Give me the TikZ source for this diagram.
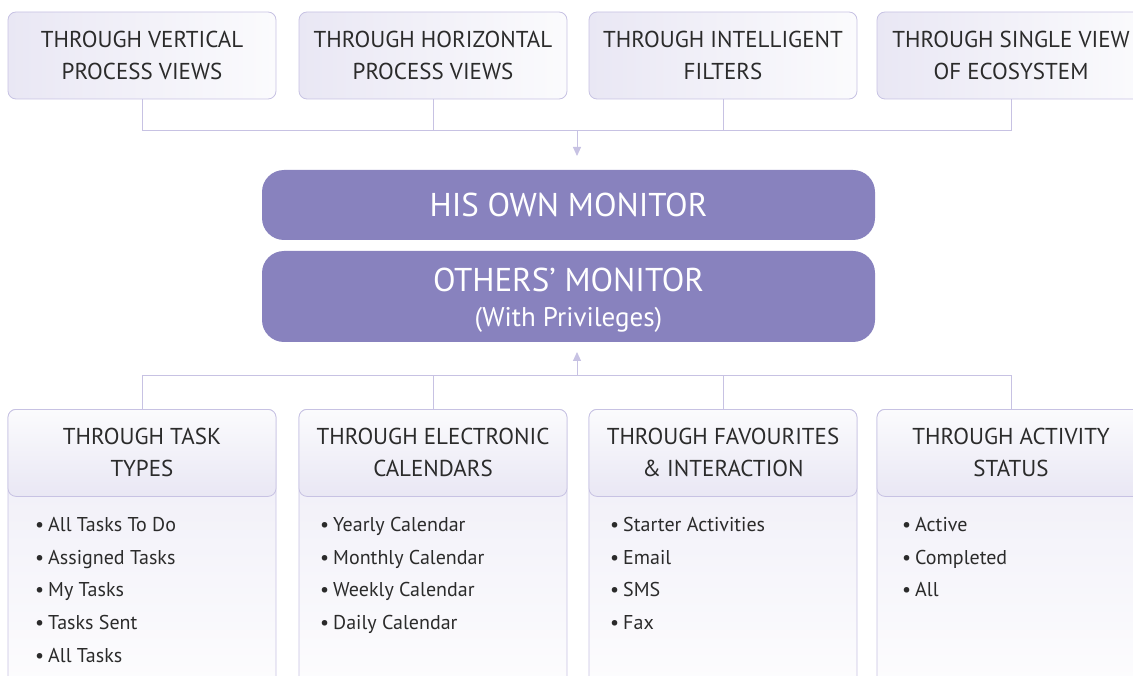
\documentclass[tikz,border=0pt]{standalone}
\usepackage{fontspec}
\setmainfont{PT Sans}
\usetikzlibrary{arrows.meta,positioning}
\definecolor{edge}{HTML}{C7C2E3}
\definecolor{main}{HTML}{8882BE}
\definecolor{ink}{HTML}{2B2B2B}
\definecolor{lav}{HTML}{E9E7F4}
\definecolor{lav2}{HTML}{FBFBFD}
\tikzset{
  topbox/.style={draw=edge, line width=0.8pt, rounded corners=8pt, left color=lav, right color=lav2, minimum width=268pt, minimum height=87pt, align=center, text=ink, font=\fontsize{23}{32}\selectfont, inner sep=0pt},
  mainbox/.style={fill=main, rounded corners=22pt, minimum width=613pt, align=center, text=white, inner sep=0pt},
  headbox/.style={draw=edge, line width=0.8pt, rounded corners=8pt, top color=lav2, bottom color=lav, minimum width=268pt, minimum height=87pt, align=center, text=ink, font=\fontsize{23}{32}\selectfont, inner sep=0pt},
  bodybox/.style={draw=edge, line width=0.8pt, rounded corners=8pt, top color=lav!80, bottom color=white, minimum width=268pt, minimum height=320pt, inner sep=0pt},
  items/.style={align=left, text=ink, font=\fontsize{20}{32.75}\selectfont, inner sep=0pt, anchor=north west},
  conn/.style={draw=edge, line width=1pt},
  arr/.style={conn, -{Triangle[length=9pt,width=8pt]}, shorten >=0pt}
}
\newcommand{\itm}{\textbullet\hspace{4pt}}
\begin{document}
\begin{tikzpicture}[x=1pt,y=-1pt]
\useasboundingbox (0,0) rectangle (1133,676);
\clip (0,0) rectangle (1133,676);
% top boxes
\node[topbox] (t1) at (142,55.5) {THROUGH VERTICAL\\PROCESS VIEWS};
\node[topbox] (t2) at (433,55.5) {THROUGH HORIZONTAL\\PROCESS VIEWS};
\node[topbox] (t3) at (723,55.5) {THROUGH INTELLIGENT\\FILTERS};
\node[topbox] (t4) at (1011,55.5) {THROUGH SINGLE VIEW\\OF ECOSYSTEM};
% main boxes
\node[mainbox, minimum height=70pt, font=\fontsize{33}{40}\selectfont] (m1) at (568.5,205) {HIS OWN MONITOR};
\node[mainbox, minimum height=91pt] (m2) at (568.5,296.5) {};
\node[align=center, text=white, inner sep=0pt, font=\fontsize{33}{40}\selectfont] (m2t) at (568.5,300) {OTHERS' MONITOR\\[-5pt]{\fontsize{27}{40}\selectfont (With Privileges)}};
% top connectors
\coordinate (jt) at (577,131);
\draw[conn] (t1.south) |- (t4.south |- jt) -- (t4.south);
\draw[conn] (t2.south) -- (t2.south |- jt);
\draw[conn] (t3.south) -- (t3.south |- jt);
\draw[arr] (jt) -- (577,156) coordinate (a1);
% bottom boxes
\foreach \n/\x in {1/142,2/433,3/723,4/1011}{
  \node[bodybox, anchor=north] (b\n) at (\x,409) {};
}
\node[headbox, anchor=north] (h1) at (142,409) {THROUGH TASK\\TYPES};
\node[headbox, anchor=north] (h2) at (433,409) {THROUGH ELECTRONIC\\CALENDARS};
\node[headbox, anchor=north] (h3) at (723,409) {THROUGH FAVOURITES\\\& INTERACTION};
\node[headbox, anchor=north] (h4) at (1011,409) {THROUGH ACTIVITY\\STATUS};
\node[items] (i1) at (35,517) {\itm All Tasks To Do\\\itm Assigned Tasks\\\itm My Tasks\\\itm Tasks Sent\\\itm All Tasks};
\node[items] (i2) at (320,517) {\itm Yearly Calendar\\\itm Monthly Calendar\\\itm Weekly Calendar\\\itm Daily Calendar};
\node[items] (i3) at (610,517) {\itm Starter Activities\\\itm Email\\\itm SMS\\\itm Fax};
\node[items] (i4) at (902,517) {\itm Active\\\itm Completed\\\itm All};
% bottom connectors
\coordinate (jb) at (577,376);
\draw[conn] (h1.north) |- (h4.north |- jb) -- (h4.north);
\draw[conn] (h2.north) -- (h2.north |- jb);
\draw[conn] (h3.north) -- (h3.north |- jb);
\draw[arr] (jb) -- (577,352) coordinate (a2);
\end{tikzpicture}
\end{document}
